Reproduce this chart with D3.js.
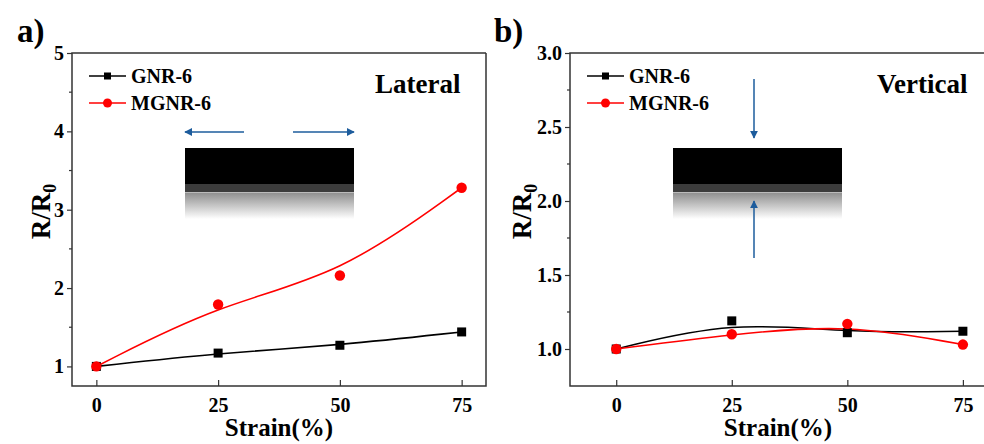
<!DOCTYPE html>
<html>
<head>
<meta charset="utf-8">
<script src="https://cdn.jsdelivr.net/npm/d3@7"></script>
<style>
  body { margin: 0; background: #fff; }
  svg { display: block; }
  svg text { font-family: "Liberation Serif", "Times New Roman", "DejaVu Serif", serif !important; font-weight: 700; fill: #000; }
</style>
</head>
<body>
<svg id="chart" width="984" height="444"></svg>
<script>
// data
const strain = [0, 25, 50, 75];
const lateralGNR = [1.0, 1.17, 1.27, 1.44];
const lateralMGNR = [1.0, 1.79, 2.16, 3.28];
const verticalGNR = [1.0, 1.19, 1.11, 1.12];
const verticalMGNR = [1.0, 1.10, 1.17, 1.03];

const xTicks = [0, 25, 50, 75];
const lateralYTicks = [1, 2, 3, 4, 5];
const lateralYMinor = [1.5, 2.5, 3.5, 4.5];
const verticalYTicks = [1.0, 1.5, 2.0, 2.5, 3.0];
const verticalYMinor = [1.25, 1.75, 2.25, 2.75];
const seriesNames = ['GNR-6', 'MGNR-6'];

const serif = '"Liberation Serif", "Times New Roman", serif';
const svg = d3.select('#chart').attr('font-family', serif);
const blue = '#1d5c9c';

const defs = svg.append('defs');
const grad = defs.append('linearGradient')
  .attr('id', 'fade').attr('x1', 0).attr('x2', 0).attr('y1', 0).attr('y2', 1);
grad.append('stop').attr('offset', 0).attr('stop-color', '#8c8c8c');
grad.append('stop').attr('offset', 1).attr('stop-color', '#ffffff');

const marker = defs.append('marker')
  .attr('id', 'head').attr('viewBox', '0 0 10 10')
  .attr('refX', 9).attr('refY', 5)
  .attr('markerWidth', 8).attr('markerHeight', 8)
  .attr('markerUnits', 'userSpaceOnUse')
  .attr('orient', 'auto');
marker.append('path').attr('d', 'M0,0 L10,5 L0,10 Z').attr('fill', blue);

function label(sel) {
  return sel.style('font-family', serif).style('font-weight', 'bold');
}

function panel(o) {
  const g = svg.append('g');
  const x = d3.scaleLinear().domain(o.xDomain).range([o.left, o.right]);
  const y = d3.scaleLinear().domain(o.yDomain).range([o.bottom, o.top]);

  // frame
  g.append('path')
    .attr('d', `M${o.right},${o.top} H${o.left} V${o.bottom} H${o.right} ` + (o.closed ? `V${o.top}` : ''))
    .attr('fill', 'none').attr('stroke', '#333').attr('stroke-width', 1.5);

  // y axis (ticks outward)
  const yAxis = d3.axisLeft(y).tickValues(o.yTicks).tickSize(5).tickPadding(3)
    .tickFormat(o.yFormat);
  const ya = g.append('g').attr('transform', `translate(${o.left},0)`).call(yAxis)
    .attr('font-family', serif);
  ya.select('.domain').remove();
  ya.selectAll('line').attr('stroke', '#333').attr('stroke-width', 1.2);
  label(ya.selectAll('text')).attr('font-size', 20).attr('fill', '#000');
  g.selectAll('.ymin').data(o.yMinor).join('line')
    .attr('x1', o.left - 3).attr('x2', o.left)
    .attr('y1', d => y(d)).attr('y2', d => y(d))
    .attr('stroke', '#333').attr('stroke-width', 1.2);

  // x axis (ticks inward)
  const xAxis = d3.axisTop(x).tickValues(xTicks).tickSize(6).tickFormat(d3.format('d'));
  const xa = g.append('g').attr('transform', `translate(0,${o.bottom})`).call(xAxis)
    .attr('font-family', serif);
  xa.select('.domain').remove();
  xa.selectAll('line').attr('stroke', '#333').attr('stroke-width', 1.2);
  label(xa.selectAll('text')).attr('y', 26).attr('font-size', 20).attr('fill', '#000');

  // axis titles
  label(g.append('text'))
    .attr('x', (o.left + o.right) / 2).attr('y', 436)
    .attr('text-anchor', 'middle').attr('font-size', 25)
    .text('Strain(%)');
  const yl = label(g.append('text'))
    .attr('transform', `translate(${o.left - o.yTitleOff},${(o.top + o.bottom) / 2 - 8}) rotate(-90)`)
    .attr('text-anchor', 'middle').attr('font-size', 27);
  yl.append('tspan').text('R/R');
  yl.append('tspan').attr('font-size', 18).attr('dy', 6).text('0');

  // panel letter
  label(g.append('text')).attr('x', o.letterX).attr('y', 42)
    .attr('font-size', 33).text(o.letter);

  // inset illustration (film on substrate)
  const ix = o.insetLeft, iw = 169, iy = 148;
  g.append('rect').attr('x', ix).attr('y', iy + 44).attr('width', iw).attr('height', 27)
    .attr('fill', 'url(#fade)');
  g.append('rect').attr('x', ix).attr('y', iy + 36).attr('width', iw).attr('height', 8)
    .attr('fill', '#3c3c3c');
  g.append('rect').attr('x', ix).attr('y', iy).attr('width', iw).attr('height', 36)
    .attr('fill', '#000');
  g.append('line').attr('x1', ix).attr('x2', ix + iw).attr('y1', iy + 44.5).attr('y2', iy + 44.5)
    .attr('stroke', '#bbb').attr('stroke-width', 1);
  o.arrows.forEach(a => {
    g.append('line').attr('x1', a[0]).attr('y1', a[1]).attr('x2', a[2]).attr('y2', a[3])
      .attr('stroke', blue).attr('stroke-width', 1.5).attr('marker-end', 'url(#head)');
  });

  // condition label
  label(g.append('text')).attr('x', o.condX).attr('y', 93)
    .attr('font-size', 27).text(o.condition);

  // data
  const line = d3.line().x(d => x(d[0])).y(d => y(d[1])).curve(d3.curveBasis);
  const gnr = strain.map((s, i) => [s, o.gnr[i]]);
  const mgnr = strain.map((s, i) => [s, o.mgnr[i]]);
  g.append('path').datum(gnr).attr('d', line)
    .attr('fill', 'none').attr('stroke', '#000').attr('stroke-width', 1.6);
  g.append('path').datum(mgnr).attr('d', line)
    .attr('fill', 'none').attr('stroke', '#ff0000').attr('stroke-width', 1.6);
  g.selectAll('.sq').data(gnr).join('rect')
    .attr('x', d => x(d[0]) - 4.5).attr('y', d => y(d[1]) - 4.5)
    .attr('width', 9).attr('height', 9).attr('fill', '#000');
  g.selectAll('.ci').data(mgnr).join('circle')
    .attr('cx', d => x(d[0])).attr('cy', d => y(d[1])).attr('r', 5.2)
    .attr('fill', '#ff0000');

  // legend
  const lx = o.left + 17;
  seriesNames.forEach((name, i) => {
    const ly = 76 + i * 27;
    const col = i === 0 ? '#000' : '#ff0000';
    g.append('line').attr('x1', lx).attr('x2', lx + 37).attr('y1', ly).attr('y2', ly)
      .attr('stroke', col).attr('stroke-width', 1.6);
    if (i === 0) {
      g.append('rect').attr('x', lx + 15).attr('y', ly - 3.5).attr('width', 7).attr('height', 7).attr('fill', col);
    } else {
      g.append('circle').attr('cx', lx + 18.5).attr('cy', ly).attr('r', 4.5).attr('fill', col);
    }
    label(g.append('text')).attr('x', lx + 42).attr('y', ly + 6.5)
      .attr('font-size', 20).text(name);
  });
}

panel({
  left: 72, right: 486, top: 53, bottom: 386, closed: true,
  xDomain: [-5, 80], yDomain: [0.75, 5],
  yTicks: lateralYTicks, yMinor: lateralYMinor, yFormat: d3.format('d'),
  gnr: lateralGNR, mgnr: lateralMGNR,
  letter: 'a)', letterX: 17, yTitleOff: 22,
  condition: 'Lateral', condX: 375,
  insetLeft: 185,
  arrows: [[244, 132, 185, 132], [293, 132, 354, 132]]
});

panel({
  left: 570, right: 986, top: 53, bottom: 386, closed: false,
  xDomain: [-10, 80], yDomain: [0.75, 3.0],
  yTicks: verticalYTicks, yMinor: verticalYMinor, yFormat: d3.format('.1f'),
  gnr: verticalGNR, mgnr: verticalMGNR,
  letter: 'b)', letterX: 494, yTitleOff: 39,
  condition: 'Vertical', condX: 877,
  insetLeft: 673,
  arrows: [[754, 79, 754, 138], [754, 258, 754, 201]]
});
</script>
</body>
</html>
